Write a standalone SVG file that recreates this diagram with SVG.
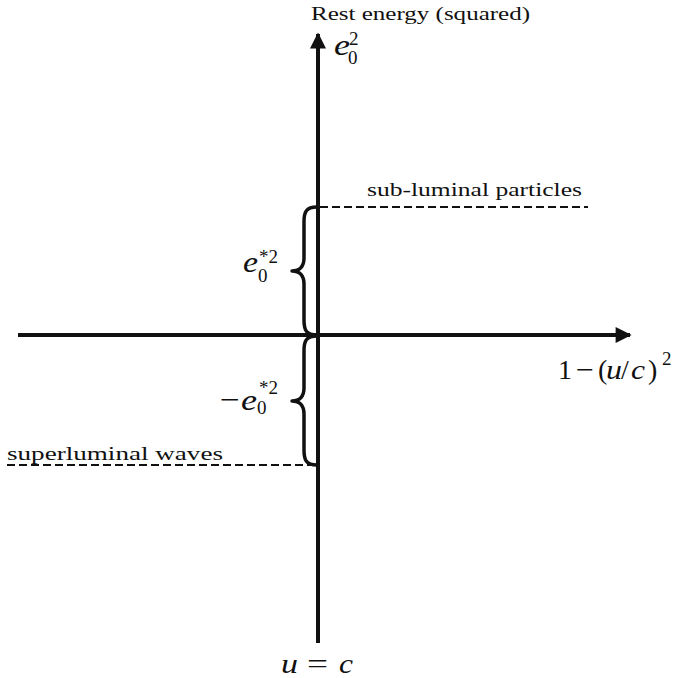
<svg xmlns="http://www.w3.org/2000/svg" width="677" height="678" viewBox="0 0 677 678">
<style>
.t{font-family:"Liberation Serif","DejaVu Serif",serif;fill:#111;}
.m{font-family:"Liberation Serif","DejaVu Serif",serif;font-style:italic;fill:#111;}
.r{font-family:"Liberation Serif","DejaVu Serif",serif;fill:#111;}
.axis{stroke:#111;stroke-width:4;fill:none;}
.dash{stroke:#111;stroke-width:2;stroke-dasharray:8,4;fill:none;}
.brace{stroke:#111;stroke-width:3.5;fill:none;stroke-linejoin:round;}
</style>
<defs>
<marker id="ah" viewBox="0 0 10 10" refX="9" refY="5" markerWidth="4.5" markerHeight="4" orient="auto" markerUnits="strokeWidth">
<path d="M0,0 L10,5 L0,10 Z" fill="#111"/>
</marker>
</defs>
<g id="connectors">
<line class="axis" x1="18" y1="335" x2="630" y2="335" marker-end="url(#ah)"/>
<line class="axis" x1="318" y1="643" x2="318" y2="34" marker-end="url(#ah)"/>
<line class="dash" x1="320" y1="207" x2="588" y2="207"/>
<line class="dash" x1="7" y1="465" x2="316" y2="465"/>
</g>
<g id="brace-upper">
<path class="brace" d="M317,207 C306,207 304,212 304,222 L304,258 C304,266 300,271 292,271 C300,271 304,276 304,284 L304,320 C304,330 306,335 317,335"/>
<text class="m" x="243" y="272" font-size="29" textLength="15" lengthAdjust="spacingAndGlyphs">e</text>
<text class="r" x="258" y="282" font-size="19">0</text>
<text class="r" x="259" y="263" font-size="19">*2</text>
</g>
<g id="brace-lower">
<path class="brace" d="M317,336 C306,336 304,341 304,351 L304,388 C304,396 300,401 292,401 C300,401 304,406 304,414 L304,450 C304,460 306,465 317,465"/>
<text class="r" x="220" y="409" font-size="28" textLength="20" lengthAdjust="spacingAndGlyphs">−</text>
<text class="m" x="241" y="410" font-size="29" textLength="16" lengthAdjust="spacingAndGlyphs">e</text>
<text class="r" x="257" y="414" font-size="19">0</text>
<text class="r" x="259" y="394" font-size="19">*2</text>
</g>
<g id="label-yaxis">
<text class="t" x="311" y="20" font-size="19" textLength="219" lengthAdjust="spacingAndGlyphs">Rest energy (squared)</text>
<text class="m" x="334" y="55" font-size="29" textLength="16" lengthAdjust="spacingAndGlyphs">e</text>
<text class="r" x="348" y="64" font-size="19">0</text>
<text class="r" x="349" y="45" font-size="19">2</text>
</g>
<g id="label-sub">
<text class="t" x="367" y="196" font-size="19" textLength="215" lengthAdjust="spacingAndGlyphs">sub-luminal particles</text>
</g>
<g id="label-super">
<text class="t" x="7" y="460" font-size="19" textLength="216" lengthAdjust="spacingAndGlyphs">superluminal waves</text>
</g>
<g id="label-xaxis">
<text class="r" x="558" y="379" font-size="28">1</text>
<text class="r" x="576" y="379" font-size="28" textLength="18" lengthAdjust="spacingAndGlyphs">−</text>
<text class="r" x="598" y="379" font-size="28">(</text>
<text class="m" x="606" y="379" font-size="28" textLength="16" lengthAdjust="spacingAndGlyphs">u</text>
<text class="r" x="621" y="379" font-size="28">/</text>
<text class="m" x="631" y="379" font-size="28" textLength="14" lengthAdjust="spacingAndGlyphs">c</text>
<text class="r" x="648" y="379" font-size="28">)</text>
<text class="r" x="662" y="365" font-size="19">2</text>
</g>
<g id="label-bottom">
<text class="m" x="281" y="673" font-size="28" textLength="17" lengthAdjust="spacingAndGlyphs">u</text>
<text class="r" x="307" y="673" font-size="28" textLength="21" lengthAdjust="spacingAndGlyphs">=</text>
<text class="m" x="339" y="673" font-size="28" textLength="14" lengthAdjust="spacingAndGlyphs">c</text>
</g>
</svg>
